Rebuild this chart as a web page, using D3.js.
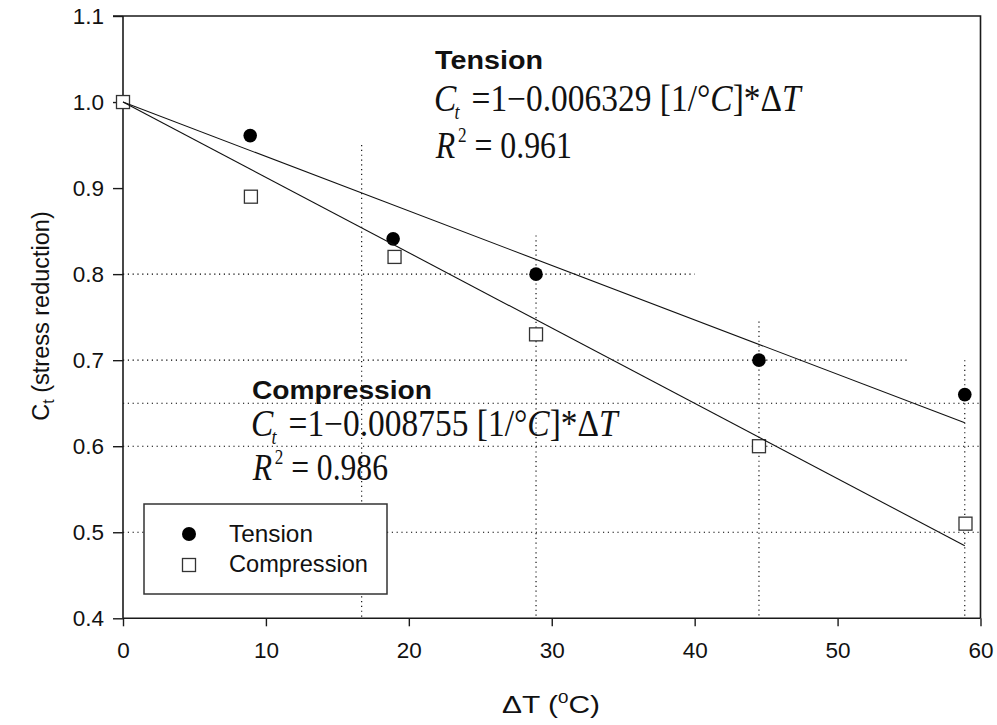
<!DOCTYPE html>
<html>
<head>
<meta charset="utf-8">
<script src="https://cdn.jsdelivr.net/npm/d3@7"></script>
<style>
  html, body { margin: 0; padding: 0; background: #fff; }
  svg { display: block; }
  .sans { font-family: "Liberation Sans", Arial, sans-serif; fill: #111; }
  .serif { font-family: "Liberation Serif", "Times New Roman", serif; fill: #111; }
</style>
</head>
<body>
<svg id="chart" width="997" height="725"></svg>
<script>
// Temperature rise (°C) and stress-reduction factor for each test series
const deltaTTension = [0, 8.9, 18.9, 28.9, 44.5, 58.9];
const ctTension = [1.0, 0.961, 0.841, 0.80, 0.70, 0.66];
const deltaTCompression = [0, 8.95, 19, 28.9, 44.5, 58.95];
const ctCompression = [1.0, 0.89, 0.82, 0.73, 0.60, 0.51];

// Linear fits Ct = 1 - k * ΔT
const slopeTension = 0.006329;
const slopeCompression = 0.008755;
const r2Tension = 0.961;
const r2Compression = 0.986;
const fitRange = [0, 58.9];

// Axis ticks
const xTicks = [0, 10, 20, 30, 40, 50, 60];
const yTicks = [0.4, 0.5, 0.6, 0.7, 0.8, 0.9, 1.0, 1.1];

// Dotted reference lines: vertical (ΔT, top Ct) and horizontal (Ct, right ΔT)
const refVerticalX = [16.7, 28.9, 44.5, 58.9];
const refVerticalTop = [0.95, 0.845, 0.745, 0.70];
const refHorizontalY = [0.8, 0.7, 0.65, 0.6, 0.5];
const refHorizontalEnd = [40, 55, 60, 60, 60];

const svg = d3.select("#chart");
const x = d3.scaleLinear().domain([0, 60]).range([123, 980.5]);
const y = d3.scaleLinear().domain([0.4, 1.1]).range([618.3, 16]);

const ink = "#1a1a1a";

// Reference grid
const grid = svg.append("g").attr("stroke", "#000").attr("stroke-width", 1.1)
  .attr("stroke-dasharray", "1.2,3.6");
refVerticalX.forEach((v, i) => {
  grid.append("line").attr("x1", x(v)).attr("x2", x(v))
    .attr("y1", y(refVerticalTop[i])).attr("y2", y(0.4));
});
refHorizontalY.forEach((v, i) => {
  grid.append("line").attr("x1", x(0)).attr("x2", x(refHorizontalEnd[i]))
    .attr("y1", y(v)).attr("y2", y(v));
});

// Axes (ticks outward), plus closing frame on top and right
const xAxis = d3.axisBottom(x).tickValues(xTicks).tickSize(8).tickPadding(6).tickFormat(d3.format("d"));
const yAxis = d3.axisLeft(y).tickValues(yTicks).tickSize(10).tickPadding(9).tickFormat(d3.format(".1f"));

const gx = svg.append("g").attr("transform", `translate(0,${y(0.4)})`).call(xAxis);
const gy = svg.append("g").attr("transform", `translate(${x(0)},0)`).call(yAxis);
[gx, gy].forEach(g => {
  g.select(".domain").attr("stroke", ink).attr("stroke-width", 1.6);
  g.selectAll(".tick line").attr("stroke", ink).attr("stroke-width", 1.4);
  g.selectAll(".tick text").attr("class", "sans").attr("font-size", 22.5).attr("fill", ink);
});
gx.selectAll(".domain").attr("d", `M${x(0)},0H${x(60)}`);
gy.selectAll(".domain").attr("d", `M0,${y(1.1)}V${y(0.4)}`);
gx.selectAll(".tick text").attr("dy", "1.15em");
svg.append("path")
  .attr("d", `M${x(0) - 10},${y(1.1)}H${x(60)}V${y(0.4)}`)
  .attr("fill", "none").attr("stroke", ink).attr("stroke-width", 1.6);

// Data markers
const tensionPts = deltaTTension.map((d, i) => ({ dt: d, ct: ctTension[i] }));
const compressionPts = deltaTCompression.map((d, i) => ({ dt: d, ct: ctCompression[i] }));
const msz = 13;

svg.append("g").selectAll("circle").data(tensionPts).join("circle")
  .attr("cx", d => x(d.dt)).attr("cy", d => y(d.ct)).attr("r", 6.8).attr("fill", "#000");
svg.append("g").selectAll("rect").data(compressionPts).join("rect")
  .attr("x", d => x(d.dt) - msz / 2).attr("y", d => y(d.ct) - msz / 2)
  .attr("width", msz).attr("height", msz)
  .attr("fill", "#fff").attr("stroke", "#333").attr("stroke-width", 1.3);

// Regression lines
const line = d3.line().x(d => x(d[0])).y(d => y(d[1]));
[slopeTension, slopeCompression].forEach(k => {
  svg.append("path")
    .datum(fitRange.map(t => [t, 1 - k * t]))
    .attr("d", line).attr("fill", "none").attr("stroke", "#111").attr("stroke-width", 1.1);
});

// Horizontally fit a text element into a given width starting at (x0, y0)
function fitWidth(sel, x0, y0, width) {
  sel.attr("x", 0).attr("y", 0).attr("text-anchor", "start");
  const bb = sel.node().getBBox();
  const sx = width / bb.width;
  sel.attr("transform", `translate(${x0 - bb.x * sx},${y0}) scale(${sx},1)`);
}

function header(label, x0, y0, width) {
  const t = svg.append("text").attr("class", "sans")
    .attr("font-size", 25.5).attr("font-weight", "bold").attr("fill", "#000").text(label);
  fitWidth(t, x0, y0, width);
}

function equation(k, x0, y0, width) {
  const t = svg.append("text").attr("class", "serif").attr("font-size", 37).attr("fill", "#000");
  t.append("tspan").attr("font-style", "italic").text("C");
  t.append("tspan").attr("font-style", "italic").attr("font-size", 20).attr("dy", 8).attr("dx", -2).text("t");
  t.append("tspan").attr("dy", -8).attr("dx", 4).text(" =1\u2212" + k.toFixed(6) + " [1/\u00B0");
  t.append("tspan").attr("font-style", "italic").text("C");
  t.append("tspan").text("]*\u0394");
  t.append("tspan").attr("font-style", "italic").text("T");
  fitWidth(t, x0, y0, width);
}

function rSquared(r2, x0, y0, width) {
  const t = svg.append("text").attr("class", "serif").attr("font-size", 37).attr("fill", "#000");
  t.append("tspan").attr("font-style", "italic").text("R");
  t.append("tspan").attr("font-size", 20).attr("dy", -16).attr("dx", 3).text("2");
  t.append("tspan").attr("dy", 16).text(" = " + r2.toFixed(3));
  fitWidth(t, x0, y0, width);
}

header("Tension", 435, 69, 108);
equation(slopeTension, 434, 111, 369);
rSquared(r2Tension, 435, 158, 137);

header("Compression", 252, 399, 180);
equation(slopeCompression, 251, 436, 369);
rSquared(r2Compression, 252, 480, 136);

// Axis titles
const xt = svg.append("text").attr("class", "sans").attr("font-size", 24);
xt.append("tspan").text("\u0394T (");
xt.append("tspan").attr("font-size", 15).attr("dy", -10).text("0");
xt.append("tspan").attr("dy", 10).text("C)");
fitWidth(xt, 502, 713, 98);

const yt = svg.append("text").attr("class", "sans").attr("font-size", 23.5)
  .attr("text-anchor", "middle")
  .attr("transform", "translate(49,316) rotate(-90)");
yt.append("tspan").text("C");
yt.append("tspan").attr("font-size", 16).attr("dy", 5).text("t");
yt.append("tspan").attr("dy", -5).text(" (stress reduction)");

// Legend
const lg = svg.append("g");
lg.append("rect").attr("x", 144).attr("y", 504).attr("width", 243).attr("height", 90)
  .attr("fill", "#fff").attr("stroke", "#333").attr("stroke-width", 1.5);
lg.append("circle").attr("cx", 189).attr("cy", 534).attr("r", 7).attr("fill", "#000");
lg.append("rect").attr("x", 189 - msz / 2).attr("y", 565 - msz / 2)
  .attr("width", msz).attr("height", msz)
  .attr("fill", "#fff").attr("stroke", "#333").attr("stroke-width", 1.3);
const lt1 = lg.append("text").attr("class", "sans").attr("font-size", 23.5).text("Tension");
fitWidth(lt1, 229, 542, 84);
const lt2 = lg.append("text").attr("class", "sans").attr("font-size", 23.5).text("Compression");
fitWidth(lt2, 229, 572, 139);
</script>
</body>
</html>
